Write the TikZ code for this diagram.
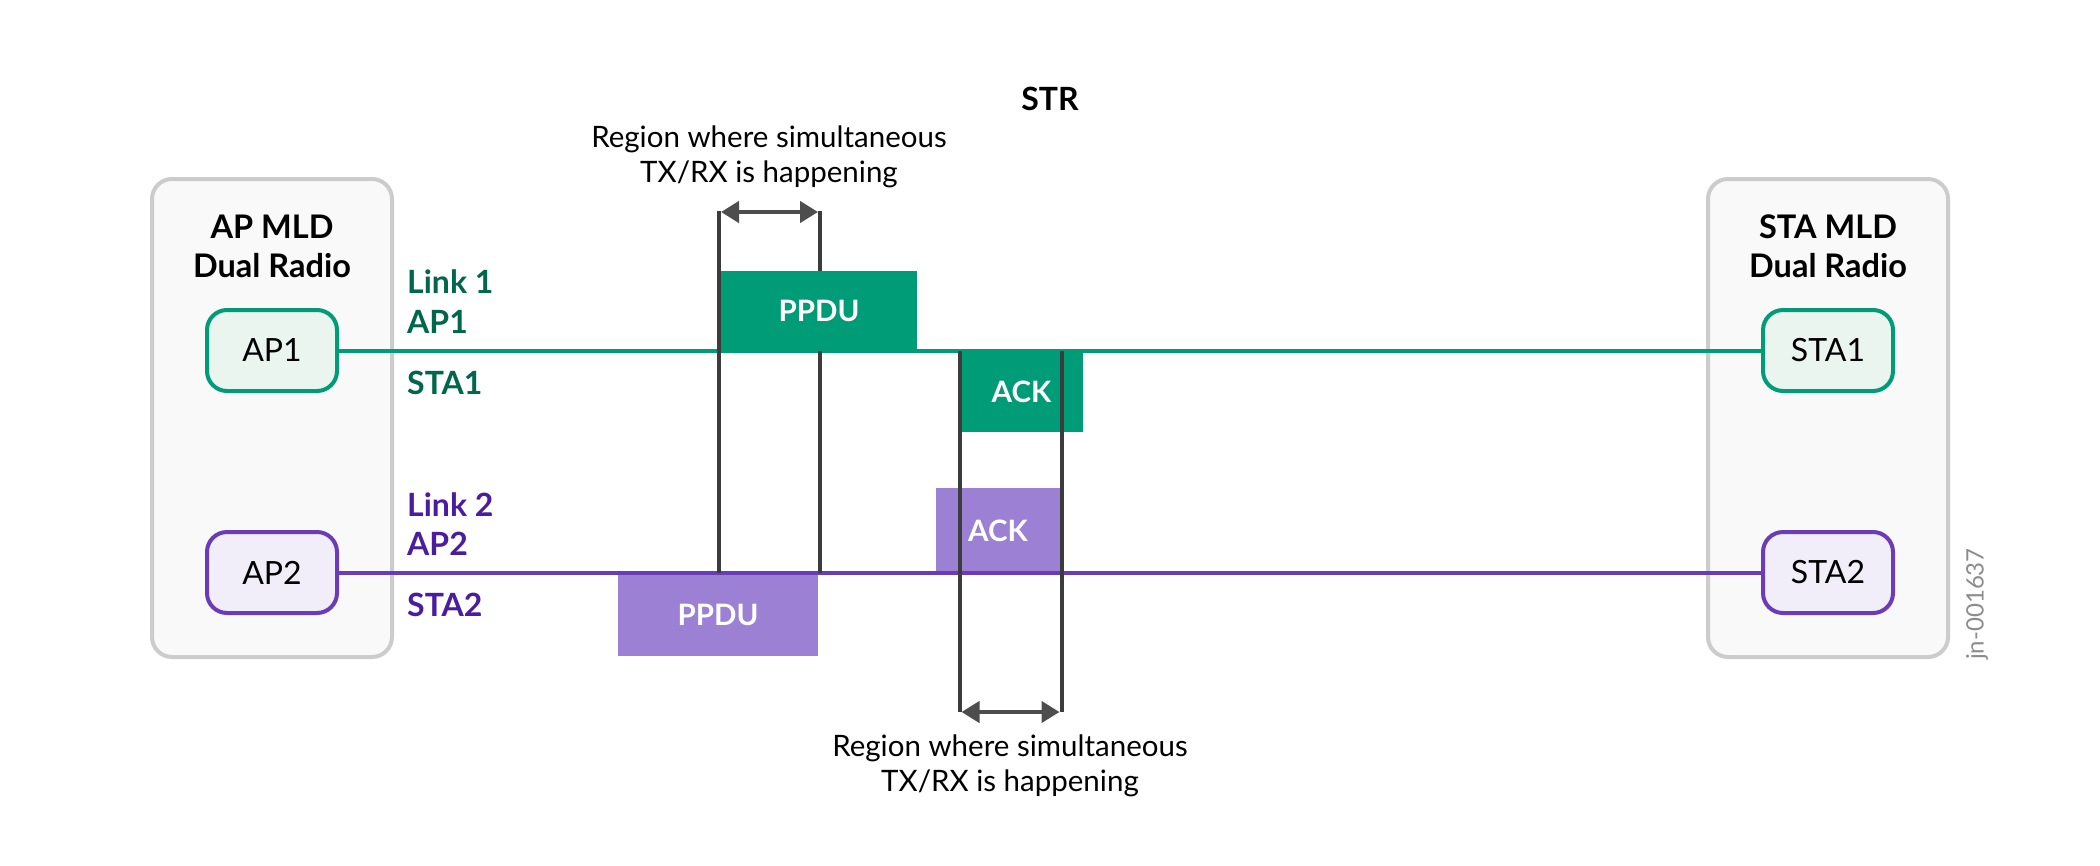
\documentclass[tikz,border=0pt]{standalone}
\usepackage{fontspec}
\setmainfont{Lato}
\usetikzlibrary{arrows.meta}
\definecolor{gline}{HTML}{009B77}
\definecolor{gfill}{HTML}{EAF5F0}
\definecolor{gtext}{HTML}{00664C}
\definecolor{pline}{HTML}{6A3CB8}
\definecolor{pfill}{HTML}{F1EEFA}
\definecolor{pbox}{HTML}{9B80D4}
\definecolor{ptext}{HTML}{4A1CA0}
\definecolor{mldfill}{HTML}{F9F9F9}
\definecolor{mlddraw}{HTML}{CCCCCC}
\definecolor{vline}{HTML}{3C3C3C}
\definecolor{arrcol}{HTML}{4D4D4D}
\tikzset{
  mldbox/.style={draw=mlddraw, fill=mldfill, line width=4pt, rounded corners=20pt, minimum width=240pt, minimum height=478pt, inner sep=0pt},
  mldtitle/.style={font=\fontsize{32.5}{39}\selectfont\bfseries, align=center, anchor=base, inner sep=0pt},
  radio/.style={line width=4pt, rounded corners=20pt, minimum width=130pt, minimum height=81pt, inner sep=0pt, font=\fontsize{32}{38}\selectfont},
  gradio/.style={radio, draw=gline, fill=gfill},
  pradio/.style={radio, draw=pline, fill=pfill},
  linkline/.style={line width=4pt},
  frame/.style={inner sep=0pt, text=white, font=\fontsize{29.5}{34}\selectfont\bfseries},
  linklabel/.style={anchor=base west, inner sep=0pt, font=\fontsize{32}{36}\selectfont\bfseries},
  marker/.style={draw=vline, line width=4pt},
  span/.style={draw=arrcol, line width=4.3pt, {Triangle[length=18pt,width=21pt]}-{Triangle[length=18pt,width=21pt]}},
  note/.style={align=center, anchor=base, inner sep=0pt, font=\fontsize{29.5}{34.5}\selectfont},
}
\begin{document}
\begin{tikzpicture}[x=1pt,y=-1pt]
\useasboundingbox (0,0) rectangle (2100,865);

% MLD containers
\node[mldbox] (apmld) at (272,418) {};
\node[mldbox] (stamld) at (1828,418) {};
\node[mldtitle] (aptitle) at (272,277) {AP MLD\\Dual Radio};
\node[mldtitle] (statitle) at (1828,277) {STA MLD\\Dual Radio};

% radios
\node[gradio] (ap1) at (272,350.5) {AP1};
\node[pradio] (ap2) at (272,572.5) {AP2};
\node[gradio] (sta1) at (1828,350.5) {STA1};
\node[pradio] (sta2) at (1828,572.5) {STA2};

% link labels
\node[linklabel, text=gtext] (l1) at (407,293) {Link 1};
\node[linklabel, text=gtext] (l1ap) at (407,333) {AP1};
\node[linklabel, text=gtext] (l1sta) at (407,394) {STA1};
\node[linklabel, text=ptext] (l2) at (407,516) {Link 2};
\node[linklabel, text=ptext] (l2ap) at (407,555) {AP2};
\node[linklabel, text=ptext] (l2sta) at (407,616) {STA2};

% title
\node[inner sep=0pt, anchor=base, font=\fontsize{32}{36}\selectfont\bfseries] (str) at (1050,110) {STR};

% frames
\node[frame, fill=gline, minimum width=196pt, minimum height=80pt] (gppdu) at (819,311) {PPDU};
\node[frame, fill=gline, minimum width=123pt, minimum height=81pt] (gack) at (1021.5,391.5) {ACK};
\node[frame, fill=pbox, minimum width=124pt, minimum height=85pt] (pack) at (998,530.5) {ACK};
\node[frame, fill=pbox, minimum width=200pt, minimum height=83pt] (pppdu) at (718,614.5) {PPDU};

% links
\draw[linkline, draw=gline] (ap1.east) -- (sta1.west);
\draw[linkline, draw=pline] (ap2.east) -- (sta2.west);

% first pair of markers
\coordinate (a1t) at (719,211);
\coordinate (a1b) at (719,573);
\coordinate (a2t) at (820,211);
\coordinate (a2b) at (820,573);
\draw[marker] (a1t) -- (a1b);
\draw[marker] (a2t) -- (gppdu.north -| a2t);
\draw[marker] (gppdu.south -| a2b) -- (a2b);

% second pair of markers (over the ACK frames)
\coordinate (b1t) at (959.5,351);
\coordinate (b1b) at (959.5,712);
\coordinate (b2t) at (1061.5,351);
\coordinate (b2b) at (1061.5,712);
\draw[marker] (b1t) -- (b1b);
\draw[marker] (b2t) -- (b2b);

% span arrows
\coordinate (s1l) at (721,212);
\coordinate (s1r) at (818,212);
\coordinate (s2l) at (961.5,712);
\coordinate (s2r) at (1059.5,712);
\draw[span] (s1l) -- (s1r);
\draw[span] (s2l) -- (s2r);

% notes
\node[note] (n1) at (769,182) {Region where simultaneous\\TX/RX is happening};
\node[note] (n2) at (1010,791) {Region where simultaneous\\TX/RX is happening};

% figure id
\node[inner sep=0pt, rotate=90, text=black!45, font=\fontsize{24}{28}\selectfont] (fid) at (1977,604) {jn-001637};
\end{tikzpicture}
\end{document}
